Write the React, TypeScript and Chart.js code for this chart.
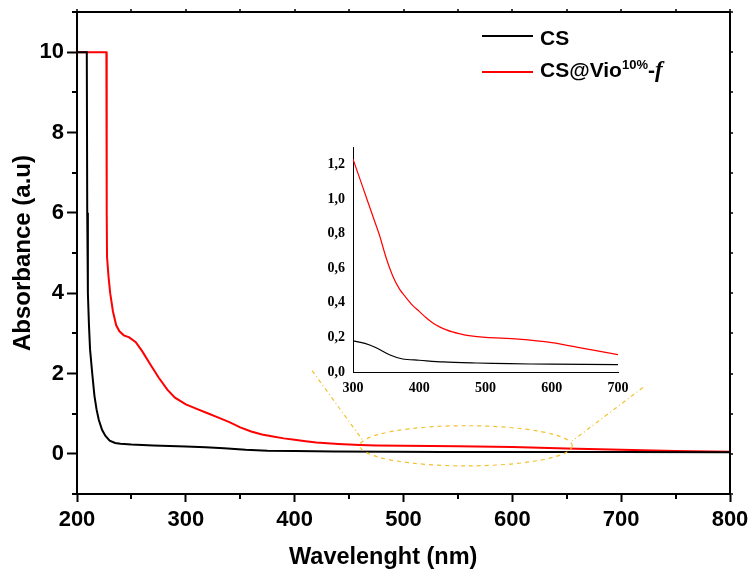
import React, { useEffect, useRef } from "react";
import { Chart, registerables } from "chart.js";

Chart.register(...registerables);

// ---------------- data ----------------
const csWavelength = [200, 209, 209.4, 210, 211, 212, 214, 216, 218, 220, 223, 226, 230, 235, 240, 250, 270, 300, 318, 335, 355, 375, 400, 436, 486, 536, 600, 700, 800];
const csAbsorbance = [10, 10, 6, 4, 3.2, 2.6, 2.0, 1.45, 1.1, 0.85, 0.6, 0.45, 0.33, 0.27, 0.25, 0.23, 0.21, 0.18, 0.165, 0.14, 0.1, 0.075, 0.068, 0.058, 0.052, 0.048, 0.045, 0.043, 0.04];

const vioWavelength = [200, 227, 227.3, 227.6, 229, 230.5, 233, 236, 239, 243, 248, 254, 260, 268, 275, 283, 290, 300, 310, 320, 330, 340, 350, 360, 370, 380, 390, 400, 410, 420, 430, 440, 450, 460, 475, 500, 550, 600, 650, 700, 750, 800];
const vioAbsorbance = [10, 10, 6, 4.9, 4.4, 4.0, 3.55, 3.2, 3.05, 2.95, 2.9, 2.78, 2.55, 2.2, 1.9, 1.6, 1.4, 1.23, 1.12, 1.01, 0.9, 0.79, 0.66, 0.555, 0.48, 0.43, 0.385, 0.35, 0.315, 0.285, 0.262, 0.245, 0.232, 0.222, 0.21, 0.2, 0.19, 0.17, 0.135, 0.1, 0.07, 0.05];

const seriesLabels = ["CS", "CS@Vio10%-f"];
const xTitle = "Wavelenght (nm)";
const yTitle = "Absorbance (a.u)";

const mainXTicks = [200, 300, 400, 500, 600, 700, 800];
const mainXMinorTicks = [250, 350, 450, 550, 650, 750];
const mainYTicks = [0, 2, 4, 6, 8, 10];
const mainYMinorTicks = [-1, 1, 3, 5, 7, 9, 11];

const insetXTicks = [300, 400, 500, 600, 700];
const insetYTicks = [0, 0.2, 0.4, 0.6, 0.8, 1.0, 1.2];

// zoomed region marker (in data units of the main chart)
const zoomFrom = 460;
const zoomTo = 655;
const zoomCenterY = 0.2;
const connectorLeftTop = { x: 416, y: 2.07 };
const connectorRightTop = { x: 720, y: 1.65 };
const connectorLeftEnd = { x: 463, y: 0.32 };
const connectorRightEnd = { x: 655, y: 0.32 };

const toPoints = (xs: number[], ys: number[]) => xs.map((x, i) => ({ x, y: ys[i] }));
const inRange = (pts: { x: number; y: number }[], a: number, b: number) => pts.filter((p) => p.x >= a && p.x <= b);

const SANS = "'Liberation Sans', Arial, sans-serif";
const SERIF = "'Liberation Serif', 'Times New Roman', serif";

const mainDecor = {
  id: "mainDecor",
  afterDraw(chart: any) {
    const { ctx, chartArea: ca, scales } = chart;
    const xs = scales.x;
    const ys = scales.y;
    ctx.save();
    ctx.strokeStyle = "#000";
    ctx.lineWidth = 2;
    ctx.beginPath();
    ctx.moveTo(ca.left, ca.top);
    ctx.lineTo(ca.right, ca.top);
    ctx.lineTo(ca.right, ca.bottom);
    ctx.stroke();
    ctx.beginPath();
    mainXMinorTicks.forEach((v) => {
      const p = Math.round(xs.getPixelForValue(v));
      ctx.moveTo(p, ca.bottom);
      ctx.lineTo(p, ca.bottom + 5);
    });
    mainYMinorTicks.forEach((v) => {
      const p = Math.round(ys.getPixelForValue(v));
      ctx.moveTo(ca.left, p);
      ctx.lineTo(ca.left - 5, p);
    });
    ctx.stroke();
    ctx.lineWidth = 1.5;
    ctx.beginPath();
    [...mainXTicks, ...mainXMinorTicks].forEach((v) => {
      const p = Math.round(xs.getPixelForValue(v));
      ctx.moveTo(p, ca.top);
      ctx.lineTo(p, ca.top - 3);
    });
    [...mainYTicks, ...mainYMinorTicks].forEach((v) => {
      const p = Math.round(ys.getPixelForValue(v));
      ctx.moveTo(ca.right, p);
      ctx.lineTo(ca.right + 3, p);
    });
    ctx.stroke();

    ctx.strokeStyle = "#f2c12e";
    ctx.lineWidth = 1.2;
    ctx.setLineDash([4, 4]);
    const x1 = xs.getPixelForValue(zoomFrom);
    const x2 = xs.getPixelForValue(zoomTo);
    const cy = ys.getPixelForValue(zoomCenterY);
    const ry = ys.getPixelForValue(0) - ys.getPixelForValue(0.5);
    ctx.beginPath();
    ctx.ellipse((x1 + x2) / 2, cy, (x2 - x1) / 2, ry, 0, 0, Math.PI * 2);
    ctx.stroke();
    ctx.setLineDash([4, 3, 1, 3]);
    ctx.beginPath();
    ctx.moveTo(xs.getPixelForValue(connectorLeftTop.x), ys.getPixelForValue(connectorLeftTop.y));
    ctx.lineTo(xs.getPixelForValue(connectorLeftEnd.x), ys.getPixelForValue(connectorLeftEnd.y));
    ctx.moveTo(xs.getPixelForValue(connectorRightTop.x), ys.getPixelForValue(connectorRightTop.y));
    ctx.lineTo(xs.getPixelForValue(connectorRightEnd.x), ys.getPixelForValue(connectorRightEnd.y));
    ctx.stroke();
    ctx.restore();
  },
};

export default function App() {
  const mainRef = useRef<HTMLCanvasElement | null>(null);
  const insetRef = useRef<HTMLCanvasElement | null>(null);

  useEffect(() => {
    document.body.style.margin = "0";
    const csPts = toPoints(csWavelength, csAbsorbance);
    const vioPts = toPoints(vioWavelength, vioAbsorbance);

    const main = new Chart(mainRef.current as HTMLCanvasElement, {
      type: "line",
      data: {
        datasets: [
          { label: seriesLabels[0], data: csPts, borderColor: "#000", borderWidth: 2, pointRadius: 0, tension: 0, fill: false },
          { label: seriesLabels[1], data: vioPts, borderColor: "#ff0000", borderWidth: 2, pointRadius: 0, tension: 0, fill: false },
        ],
      },
      options: {
        responsive: false,
        animation: false,
        devicePixelRatio: 1,
        layout: { padding: { top: 12, right: 19, left: 0, bottom: 0 } },
        plugins: { legend: { display: false }, tooltip: { enabled: false } },
        scales: {
          x: {
            type: "linear",
            min: 200,
            max: 800,
            afterBuildTicks: (s: any) => {
              s.ticks = mainXTicks.map((v) => ({ value: v }));
            },
            afterFit: (s: any) => {
              s.height = 78;
              s.paddingLeft = 0;
              s.paddingRight = 0;
            },
            grid: { drawOnChartArea: false, drawTicks: true, tickLength: 8, tickWidth: 2, tickColor: "#000" },
            border: { display: true, color: "#000", width: 2 },
            ticks: { color: "#000", font: { family: SANS, size: 22, weight: "bold" }, padding: 5, maxRotation: 0, autoSkip: false },
            title: { display: false },
          },
          y: {
            type: "linear",
            min: -1,
            max: 11,
            afterBuildTicks: (s: any) => {
              s.ticks = mainYTicks.map((v) => ({ value: v }));
            },
            afterFit: (s: any) => {
              s.width = 77;
              s.paddingTop = 0;
              s.paddingBottom = 0;
            },
            grid: { drawOnChartArea: false, drawTicks: true, tickLength: 10, tickWidth: 2, tickColor: "#000" },
            border: { display: true, color: "#000", width: 2 },
            ticks: { color: "#000", font: { family: SANS, size: 22, weight: "bold" }, padding: 3, autoSkip: false },
            title: { display: true, text: yTitle, color: "#000", font: { family: SANS, size: 24, weight: "bold" }, padding: { top: 9, bottom: 0 } },
          },
        },
      },
      plugins: [mainDecor],
    } as any);

    const inset = new Chart(insetRef.current as HTMLCanvasElement, {
      type: "line",
      data: {
        datasets: [
          { label: seriesLabels[0], data: inRange(csPts, 300, 700), borderColor: "#000", borderWidth: 1.2, pointRadius: 0, tension: 0.3, fill: false },
          { label: seriesLabels[1], data: inRange(vioPts, 300, 700), borderColor: "#ff0000", borderWidth: 1.2, pointRadius: 0, tension: 0.3, fill: false },
        ],
      },
      options: {
        responsive: false,
        animation: false,
        devicePixelRatio: 1,
        layout: { padding: { top: 12, right: 32, left: 8, bottom: 0 } },
        plugins: { legend: { display: false }, tooltip: { enabled: false } },
        scales: {
          x: {
            type: "linear",
            min: 300,
            max: 700,
            afterBuildTicks: (s: any) => {
              s.ticks = insetXTicks.map((v) => ({ value: v }));
            },
            afterFit: (s: any) => {
              s.height = 33;
              s.paddingLeft = 0;
              s.paddingRight = 0;
            },
            grid: { drawOnChartArea: false, drawTicks: false },
            border: { display: true, color: "#000", width: 1 },
            ticks: { color: "#000", font: { family: SERIF, size: 14, weight: "bold" }, padding: 8, maxRotation: 0, autoSkip: false },
          },
          y: {
            type: "linear",
            min: 0,
            max: 1.3,
            afterBuildTicks: (s: any) => {
              s.ticks = insetYTicks.map((v) => ({ value: v }));
            },
            afterFit: (s: any) => {
              s.width = 45;
              s.paddingTop = 0;
              s.paddingBottom = 0;
            },
            grid: { drawOnChartArea: false, drawTicks: false },
            border: { display: true, color: "#000", width: 1 },
            ticks: {
              color: "#000",
              font: { family: SERIF, size: 14, weight: "bold" },
              padding: 8,
              autoSkip: false,
              callback: (v: any) => Number(v).toFixed(1).replace(".", ","),
            },
          },
        },
      },
    } as any);

    return () => {
      main.destroy();
      inset.destroy();
    };
  }, []);

  return (
    <div style={{ position: "relative", width: 749, height: 572, background: "#fff", overflow: "hidden" }}>
      <canvas ref={mainRef} width={749} height={572} style={{ position: "absolute", left: 0, top: 0 }} />
      <canvas ref={insetRef} width={350} height={270} style={{ position: "absolute", left: 300, top: 135 }} />
      <div style={{ position: "absolute", left: 289, top: 544, font: `bold 23.5px ${SANS}`, lineHeight: "24px", color: "#000", whiteSpace: "nowrap" }}>
        {xTitle}
      </div>
      {/* legend */}
      <div style={{ position: "absolute", left: 482, top: 35, width: 51, height: 2, background: "#000" }} />
      <div style={{ position: "absolute", left: 540, top: 27, font: `bold 21px ${SANS}`, lineHeight: "21px", color: "#000", whiteSpace: "nowrap" }}>
        {seriesLabels[0]}
      </div>
      <div style={{ position: "absolute", left: 482, top: 71, width: 51, height: 2, background: "#ff0000" }} />
      <div style={{ position: "absolute", left: 540, top: 59, font: `bold 21px ${SANS}`, lineHeight: "21px", color: "#000", whiteSpace: "nowrap" }}>
        <span>CS@Vio</span>
        <span style={{ fontSize: 13, position: "relative", top: -8 }}>10%</span>
        <span>-</span>
        <span style={{ fontFamily: SERIF, fontStyle: "italic", fontSize: 23 }}>f</span>
      </div>
    </div>
  );
}
